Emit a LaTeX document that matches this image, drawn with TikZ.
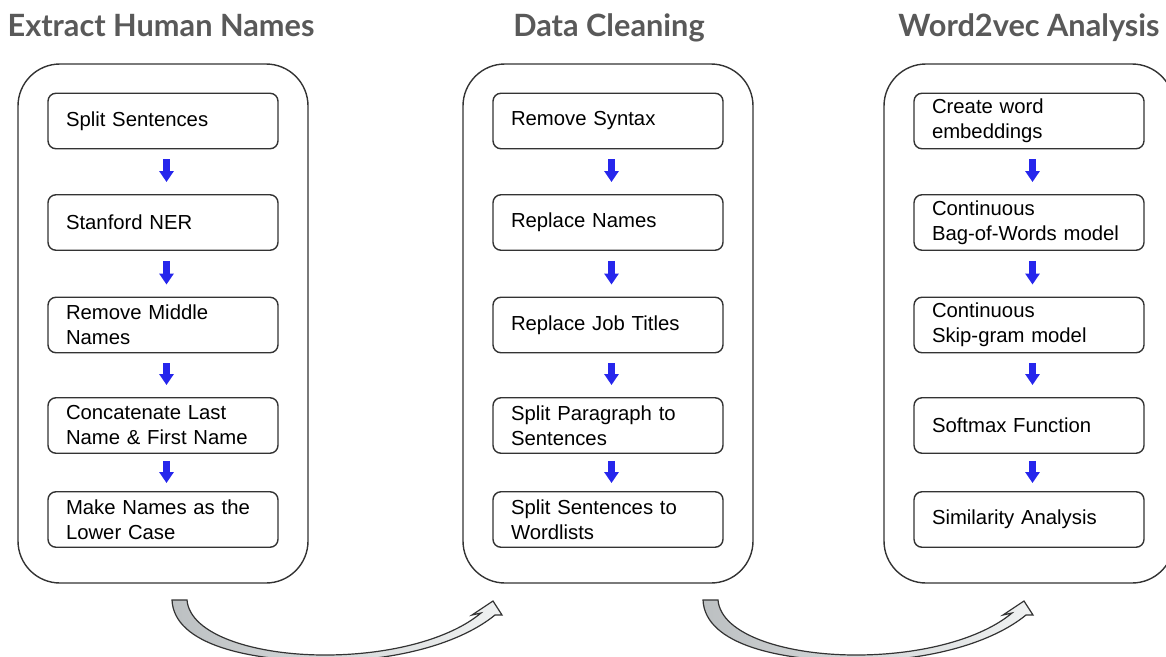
\documentclass[tikz,border=0pt]{standalone}
\usepackage{fontspec}
\setmainfont{Liberation Sans}
\newfontfamily\titlefont{Lato}
\usetikzlibrary{arrows.meta}
\definecolor{titlegray}{HTML}{595959}
\definecolor{linegray}{HTML}{333333}
\definecolor{stepblue}{RGB}{38,38,236}
\definecolor{arrowdark}{HTML}{BCC0C2}
\definecolor{arrowlight}{HTML}{F0F2F2}
\tikzset{
  x=1pt, y=-1pt,
  titletext/.style={anchor=base, text=titlegray, font=\titlefont\bfseries\fontsize{30.7}{36}\selectfont, inner sep=0pt},
  outerbox/.style={draw=linegray, line width=1.4pt, rounded corners=42pt},
  stepbox/.style={draw=linegray, line width=1.4pt, rounded corners=8pt, rectangle,
    text width=194pt, inner xsep=18pt, inner ysep=0pt, minimum height=55.5pt, align=left,
    font=\fontsize{20.3}{25}\selectfont, anchor=center},
  steparrow/.style={draw=stepblue, line width=7pt, -{Triangle[width=14pt,length=11pt]},
    shorten <=10pt, shorten >=12pt},
  bigarrow/.style={draw=linegray, line width=1.2pt, left color=arrowdark, right color=arrowlight, line join=miter},
}
\begin{document}
\begin{tikzpicture}
\useasboundingbox (0,0) rectangle (1166,656);
% titles
\node[titletext] (t1) at (161,36) {Extract Human Names};
\node[titletext] (t2) at (609,36) {Data Cleaning};
\node[titletext] (t3) at (1029,36) {Word2vec Analysis};
% outer boxes
\draw[outerbox] (18,64) rectangle (308,583);
\draw[outerbox] (463,64) rectangle (753,583);
\draw[outerbox] (884,64) rectangle (1174,583);
% column 1
\node[stepbox] (a1) at (163,121) {Split Sentences};
\node[stepbox] (a2) at (163,222.5) {Stanford NER};
\node[stepbox] (a3) at (163,325) {Remove Middle\\Names};
\node[stepbox] (a4) at (163,425.5) {Concatenate Last\\Name \& First Name};
\node[stepbox] (a5) at (163,519.5) {Make Names as the\\Lower Case};
% column 2
\node[stepbox] (b1) at (608,121) {Remove Syntax};
\node[stepbox] (b2) at (608,222.5) {Replace Names};
\node[stepbox] (b3) at (608,325) {Replace Job Titles};
\node[stepbox] (b4) at (608,425.5) {Split Paragraph to\\Sentences};
\node[stepbox] (b5) at (608,519.5) {Split Sentences to\\Wordlists};
% column 3
\node[stepbox] (c1) at (1029,121) {Create word\\embeddings};
\node[stepbox] (c2) at (1029,222.5) {Continuous\\Bag-of-Words model};
\node[stepbox] (c3) at (1029,325) {Continuous\\Skip-gram model};
\node[stepbox] (c4) at (1029,425.5) {Softmax Function};
\node[stepbox] (c5) at (1029,519.5) {Similarity Analysis};
% step arrows
\foreach \col in {a,b,c}{
  \draw[steparrow] ([xshift=3.5pt]\col1.south) -- ([xshift=3.5pt]\col2.north);
  \draw[steparrow] ([xshift=3.5pt]\col2.south) -- ([xshift=3.5pt]\col3.north);
  \draw[steparrow] ([xshift=3.5pt]\col3.south) -- ([xshift=3.5pt]\col4.north);
  \draw[steparrow, shorten <=7pt, shorten >=8pt] ([xshift=3.5pt]\col4.south) -- ([xshift=3.5pt]\col5.north);
}
% curved block arrows
\foreach \dx in {0,531}{
\begin{scope}[xshift=\dx pt]
\path[bigarrow] (172,600) .. controls (174,645) and (250,661) .. (325,661)
  .. controls (400,661) and (462,642) .. (495,615)
  -- (502,615) -- (493,601) -- (472,615) -- (481,613)
  .. controls (450,639) and (390,655) .. (325,655)
  .. controls (255,655) and (190,635) .. (187,600) -- cycle;
\end{scope}
}
\end{tikzpicture}
\end{document}
